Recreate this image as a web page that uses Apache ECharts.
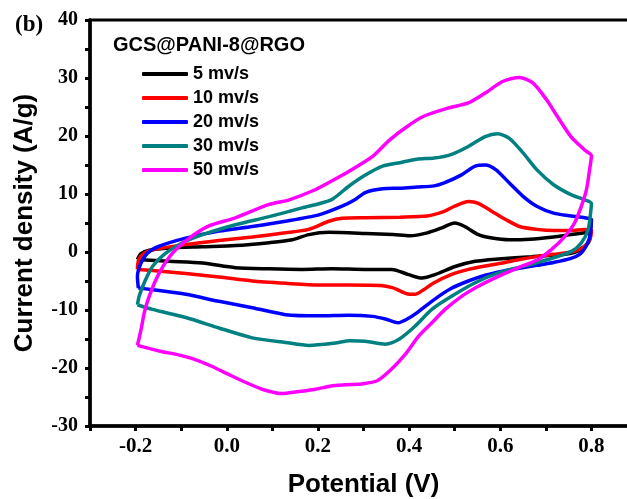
<!DOCTYPE html>
<html>
<head>
<meta charset="utf-8">
<script src="https://cdn.jsdelivr.net/npm/echarts@6/dist/echarts.min.js"></script>
<style>
html,body{margin:0;padding:0;background:#fff;}
#chart{width:627px;height:499px;}
</style>
</head>
<body>
<div id="chart"></div>
<script>
// Scan-rate labels
const scanRates = ['5 mv/s', '10 mv/s', '20 mv/s', '30 mv/s', '50 mv/s'];
const lineColors = ['#000000', '#ff0000', '#0000ff', '#008080', '#ff00ff'];
const legendTitle = 'GCS@PANI-8@RGO';
const panelLabel = '(b)';

// CV loops: [potential (V), current density (A/g)], anodic sweep then cathodic sweep
const cv5 = [
  [-0.196,-1.3],[-0.188,-0.3],[-0.170,0.3],[-0.126,0.7],[-0.053,0.9],[0.019,1.1],[0.093,1.6],
  [0.144,2.1],[0.180,3.0],[0.224,3.4],[0.305,3.2],[0.365,3.0],[0.402,2.8],[0.440,3.3],[0.470,4.1],
  [0.500,5.0],[0.522,4.4],[0.552,3.0],[0.582,2.4],[0.620,2.1],[0.665,2.2],[0.717,2.6],[0.755,3.0],
  [0.785,3.3],[0.797,3.4],
  [0.797,2.5],[0.793,1.6],[0.778,0.4],[0.742,-0.4],[0.669,-0.8],[0.596,-1.2],[0.545,-1.6],
  [0.501,-2.5],[0.457,-3.9],[0.428,-4.5],[0.399,-3.9],[0.362,-3.0],[0.304,-3.0],[0.231,-2.9],
  [0.165,-3.0],[0.093,-2.9],[0.019,-2.7],[-0.053,-1.9],[-0.126,-1.6],[-0.196,-1.3]
];
const cv10 = [
  [-0.196,-3.0],[-0.193,-1.3],[-0.181,-0.2],[-0.156,0.5],[-0.090,1.3],[-0.017,2.0],[0.056,2.6],
  [0.129,3.3],[0.180,3.9],[0.224,5.3],[0.253,5.8],[0.305,5.9],[0.380,6.0],[0.440,6.2],[0.477,7.0],
  [0.500,7.9],[0.530,8.7],[0.552,8.4],[0.582,7.0],[0.612,5.6],[0.642,4.4],[0.680,3.9],[0.717,3.7],
  [0.755,3.7],[0.785,3.9],[0.800,3.8],
  [0.799,2.8],[0.796,2.1],[0.785,1.0],[0.762,0.1],[0.717,-0.4],[0.680,-0.8],[0.642,-1.3],
  [0.605,-1.9],[0.567,-2.4],[0.530,-3.0],[0.492,-3.9],[0.455,-5.3],[0.432,-6.5],[0.413,-7.3],
  [0.395,-7.2],[0.365,-6.2],[0.342,-5.8],[0.267,-5.7],[0.202,-5.7],[0.129,-5.4],[0.056,-5.0],
  [-0.017,-4.3],[-0.090,-3.7],[-0.163,-3.2],[-0.196,-3.0]
];
const cv20 = [
  [-0.194,-6.2],[-0.196,-4.2],[-0.188,-1.9],[-0.174,-0.2],[-0.148,1.0],[-0.090,2.4],[-0.017,3.6],
  [0.056,4.4],[0.129,5.3],[0.202,6.4],[0.253,7.9],[0.281,9.0],[0.305,10.3],[0.342,10.9],
  [0.380,11.0],[0.417,11.2],[0.455,11.4],[0.477,11.9],[0.515,13.3],[0.545,14.8],[0.567,15.0],
  [0.590,14.2],[0.620,11.9],[0.650,9.6],[0.680,7.9],[0.717,6.7],[0.755,6.2],[0.785,5.9],[0.800,5.6],
  [0.798,3.3],[0.792,1.6],[0.777,-0.2],[0.755,-1.1],[0.717,-1.8],[0.680,-2.3],[0.642,-2.8],
  [0.605,-3.3],[0.567,-4.0],[0.530,-5.0],[0.492,-6.3],[0.455,-8.2],[0.417,-10.5],[0.395,-11.6],
  [0.376,-12.2],[0.350,-11.6],[0.320,-11.1],[0.267,-10.9],[0.202,-11.0],[0.129,-10.8],
  [0.056,-9.6],[-0.017,-8.5],[-0.090,-7.3],[-0.163,-6.5],[-0.194,-6.2]
];
const cv30 = [
  [-0.196,-9.1],[-0.192,-7.6],[-0.181,-5.3],[-0.163,-2.5],[-0.134,-0.2],[-0.097,1.6],[-0.053,3.0],
  [0.019,4.7],[0.093,6.1],[0.165,7.6],[0.229,9.0],[0.267,11.3],[0.305,13.3],[0.342,14.8],
  [0.380,15.4],[0.417,16.0],[0.455,16.2],[0.492,16.8],[0.530,18.2],[0.567,19.9],[0.594,20.4],
  [0.620,19.6],[0.650,17.1],[0.680,14.2],[0.717,11.6],[0.755,9.9],[0.785,9.0],[0.800,8.4],
  [0.799,7.3],[0.793,3.9],[0.778,1.6],[0.756,0.1],[0.705,-1.3],[0.654,-2.4],[0.596,-3.6],
  [0.545,-5.3],[0.494,-7.6],[0.450,-9.9],[0.413,-12.8],[0.377,-15.1],[0.348,-15.9],[0.304,-15.4],
  [0.270,-15.3],[0.238,-15.7],[0.180,-16.1],[0.129,-15.6],[0.056,-14.8],[-0.017,-13.1],
  [-0.090,-11.3],[-0.163,-9.9],[-0.196,-9.1]
];
const cv50 = [
  [-0.196,-16.1],[-0.188,-13.4],[-0.181,-10.5],[-0.170,-7.6],[-0.148,-3.6],[-0.119,-0.2],
  [-0.082,2.4],[-0.039,4.5],[0.019,5.9],[0.093,8.2],[0.137,9.0],[0.190,10.6],[0.229,12.2],
  [0.274,14.2],[0.320,16.5],[0.357,19.3],[0.395,21.6],[0.432,23.4],[0.485,24.8],[0.530,25.7],
  [0.567,27.4],[0.605,29.4],[0.642,30.1],[0.672,29.1],[0.702,26.2],[0.725,23.4],[0.755,19.9],
  [0.785,17.6],[0.800,16.6],
  [0.796,14.2],[0.789,10.7],[0.778,7.9],[0.763,5.0],[0.742,2.7],[0.712,0.4],[0.683,-1.3],
  [0.640,-2.7],[0.596,-4.2],[0.552,-5.9],[0.516,-7.6],[0.479,-9.9],[0.450,-12.2],[0.421,-14.5],
  [0.391,-17.7],[0.360,-20.3],[0.330,-22.2],[0.300,-22.7],[0.260,-22.9],[0.229,-23.1],
  [0.192,-23.7],[0.154,-24.1],[0.121,-24.4],[0.079,-23.7],[0.042,-22.5],[0.004,-21.1],
  [-0.033,-19.7],[-0.071,-18.5],[-0.108,-17.7],[-0.146,-17.1],[-0.196,-16.1]
];
const loops = [cv5, cv10, cv20, cv30, cv50];

const chart = echarts.init(document.getElementById('chart'), null, {renderer: 'canvas'});
const serif = '"Liberation Serif", "Times New Roman", serif';
const sans = '"Liberation Sans", Arial, sans-serif';

chart.setOption({
  animation: false,
  backgroundColor: '#ffffff',
  title: [
    {text: panelLabel, left: 10, top: 9,
     textStyle: {fontFamily: serif, fontWeight: 'bold', fontSize: 23, color: '#000'}},
    {text: legendTitle, left: 108, top: 30,
     textStyle: {fontFamily: sans, fontWeight: 'bold', fontSize: 20, color: '#000'}}
  ],
  legend: {
    orient: 'vertical', left: 137, top: 59,
    icon: 'roundRect', itemWidth: 46, itemHeight: 4, itemGap: 4,
    textStyle: {fontFamily: sans, fontWeight: 'bold', fontSize: 18, lineHeight: 20, color: '#000'},
    data: scanRates
  },
  grid: {left: 90, top: 20, right: -10, bottom: 73, show: true,
         borderColor: '#000', borderWidth: 3, containLabel: false, outerBoundsMode: 'none'},
  xAxis: {
    type: 'value', min: -0.3, max: 0.9, interval: 0.1,
    name: 'Potential (V)', nameLocation: 'middle', nameGap: 46,
    nameTextStyle: {fontFamily: sans, fontWeight: 'bold', fontSize: 26, color: '#000'},
    axisLine: {show: true, onZero: false, lineStyle: {color: '#000', width: 3.5}},
    axisTick: {show: true, inside: false, length: 5, lineStyle: {color: '#000', width: 3}},
    axisLabel: {margin: 10, fontFamily: serif, fontWeight: 'bold', fontSize: 21, color: '#000',
      formatter: function (v) {
        const k = Math.round(v * 10);
        return (k % 2 === 0) ? (k / 10).toFixed(1) : '';
      }},
    splitLine: {show: false}
  },
  yAxis: {
    type: 'value', min: -30, max: 40, interval: 5,
    name: 'Current density (A/g)', nameLocation: 'middle', nameGap: 52, nameRotate: 90,
    nameTextStyle: {fontFamily: sans, fontWeight: 'bold', fontSize: 26, color: '#000'},
    axisLine: {show: true, onZero: false, lineStyle: {color: '#000', width: 3.5}},
    axisTick: {show: true, inside: false, length: 5, lineStyle: {color: '#000', width: 3}},
    axisLabel: {margin: 12, fontFamily: serif, fontWeight: 'bold', fontSize: 20, color: '#000',
      formatter: function (v) { return (Math.round(v) % 10 === 0) ? String(Math.round(v)) : ''; }},
    splitLine: {show: false}
  },
  series: loops.map(function (d, idx) {
    return {
      name: scanRates[idx], type: 'line', data: d,
      showSymbol: false, smooth: 0.25, clip: false,
      lineStyle: {color: lineColors[idx], width: 3.5},
      itemStyle: {color: lineColors[idx]}
    };
  })
});
</script>
</body>
</html>
